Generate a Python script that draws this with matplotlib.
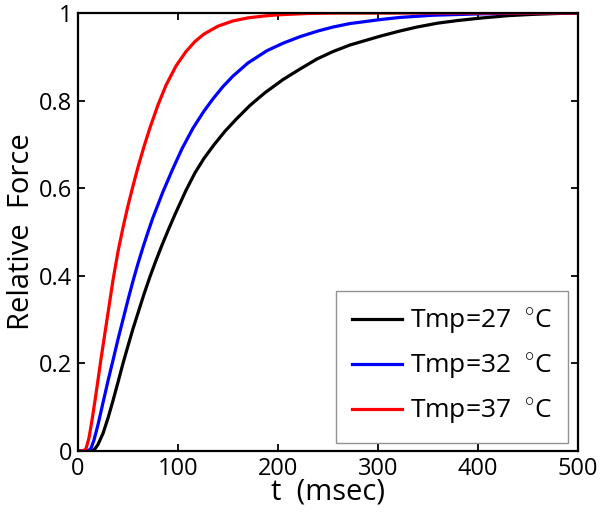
import matplotlib
matplotlib.use("Agg")
import matplotlib.pyplot as plt

# values
t_27 = [0, 14, 17, 20, 25, 30, 35, 40, 45, 50, 55, 60, 66, 72, 78, 84, 90, 97,
        108, 117, 126, 136, 147, 158, 172, 187, 205, 222, 239, 255, 272, 290,
        302, 322, 339, 360, 380, 405, 430, 455, 480, 500]
f_27 = [0, 0, 0.005, 0.015, 0.04, 0.075, 0.115, 0.157, 0.2, 0.24, 0.279, 0.315,
        0.358, 0.398, 0.435, 0.47, 0.503, 0.54, 0.595, 0.635, 0.668, 0.699, 0.73,
        0.757, 0.789, 0.818, 0.848, 0.872, 0.895, 0.912, 0.927, 0.939, 0.947,
        0.959, 0.968, 0.977, 0.983, 0.989, 0.994, 0.997, 0.999, 1.0]

t_32 = [0, 10, 13, 16, 20, 25, 30, 35, 40, 45, 50, 55, 60, 65, 70, 75, 85, 95,
        104, 115, 126, 135, 145, 155, 170, 189, 205, 222, 240, 255, 272, 302,
        322, 355, 400, 450, 500]
f_32 = [0, 0, 0.006, 0.025, 0.06, 0.11, 0.16, 0.207, 0.255, 0.3, 0.345, 0.388,
        0.428, 0.465, 0.5, 0.533, 0.592, 0.645, 0.69, 0.737, 0.776, 0.804, 0.832,
        0.856, 0.886, 0.914, 0.931, 0.946, 0.959, 0.968, 0.976, 0.985, 0.99,
        0.995, 0.998, 1.0, 1.0]

t_37 = [0, 5, 8, 11, 14, 17, 20, 23, 27, 31, 35, 40, 45, 50, 55, 60, 66, 72,
        80, 88, 98, 108, 117, 126, 140, 155, 170, 185, 200, 230, 260, 500]
f_37 = [0, 0, 0.005, 0.03, 0.07, 0.115, 0.162, 0.21, 0.27, 0.33, 0.39, 0.455,
        0.51, 0.56, 0.605, 0.648, 0.695, 0.738, 0.79, 0.835, 0.879, 0.912, 0.935,
        0.952, 0.97, 0.982, 0.989, 0.993, 0.996, 0.999, 1.0, 1.0]

labels = [r'Tmp=27  $^{\circ}$C', r'Tmp=32  $^{\circ}$C', r'Tmp=37  $^{\circ}$C']

plt.rcParams['font.family'] = ['Open Sans', 'DejaVu Sans']
plt.rcParams['mathtext.fontset'] = 'custom'
plt.rcParams['mathtext.rm'] = 'Open Sans'

fig = plt.figure(figsize=(6, 5.22), dpi=100)
ax = fig.add_axes([0.13, 0.136, 0.833, 0.839])

ax.plot(t_27, f_27, color='black', lw=2.3, label=labels[0])
ax.plot(t_32, f_32, color='blue', lw=2.3, label=labels[1])
ax.plot(t_37, f_37, color='red', lw=2.3, label=labels[2])

ax.set_xlim(0, 500)
ax.set_ylim(0, 1)
ax.set_xticks([0, 100, 200, 300, 400, 500])
ax.set_yticks([0, 0.2, 0.4, 0.6, 0.8, 1])
ax.set_yticklabels(['0', '0.2', '0.4', '0.6', '0.8', '1'])
ax.tick_params(direction='in', length=5, width=1.3, top=True, right=True,
               labelsize=17, pad=4)
for s in ax.spines.values():
    s.set_linewidth(1.6)

ax.set_xlabel('t  (msec)', fontsize=21, labelpad=-2)
ax.set_ylabel('Relative  Force', fontsize=21, labelpad=2)

leg = ax.legend(loc='lower right', bbox_to_anchor=(0.98, 0.018),
                borderaxespad=0, fontsize=19, fancybox=False,
                edgecolor='#777777', handlelength=1.9, handletextpad=0.3,
                labelspacing=0.55, borderpad=0.6)
leg.get_frame().set_linewidth(1.0)

fig.savefig('out.png', dpi=100)
